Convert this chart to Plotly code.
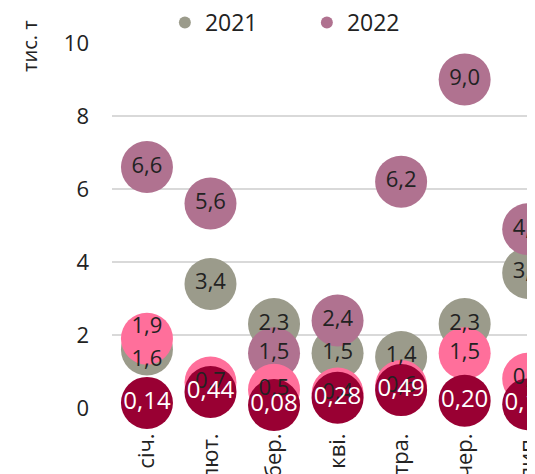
import plotly.graph_objects as go

months = ["січ.", "лют.", "бер.", "кві.", "тра.", "чер.", "лип."]
v2021 = [1.6, 3.4, 2.3, 1.5, 1.4, 2.3, 3.7]
v2022 = [6.6, 5.6, 1.5, 2.4, 6.2, 9.0, 4.9]
pink_vals = [1.9, 0.7, 0.5, 0.4, 0.6, 1.5, 0.8]
dark_vals = [0.14, 0.44, 0.08, 0.28, 0.49, 0.20, 0.10]
y_ticks = [0, 2, 4, 6, 8, 10]

C_GRAY = "#9b9b8b"
C_MAUVE = "#b07290"
C_PINK = "#ff6f9b"
C_DARK = "#990033"
FONT = "Open Sans"


def fmt(v, d):
    return f"{v:.{d}f}".replace(".", ",")


fig = go.Figure()
SIZE = 52
for name, vals, col, show in [
    ("2021", v2021, C_GRAY, True),
    ("2022", v2022, C_MAUVE, True),
    ("p", pink_vals, C_PINK, False),
    ("d", dark_vals, C_DARK, False),
]:
    fig.add_trace(go.Scatter(
        x=months, y=vals, mode="markers", name=name, showlegend=show,
        marker=dict(size=SIZE, color=col, line=dict(width=0), opacity=1),
        cliponaxis=False, hoverinfo="skip",
    ))

# labels (drawn after all bubbles)
pos_gray = ["bottom center"] + ["middle center"] * (len(months) - 1)
pos_pink = ["top center"] + ["middle center"] * (len(months) - 1)
for vals, d, col, size, pos in [
    (v2021, 1, "#222222", 22, pos_gray),
    (v2022, 1, "#222222", 22, "middle center"),
    (pink_vals, 1, "#222222", 22, pos_pink),
    (dark_vals, 2, "#ffffff", 24, "middle center"),
]:
    fig.add_trace(go.Scatter(
        x=months, y=vals, mode="text", showlegend=False,
        text=[fmt(v, d) for v in vals], textposition=pos,
        textfont=dict(family=FONT, size=size, color=col),
        cliponaxis=False, hoverinfo="skip",
    ))

# the page body has an 8px default margin, so the figure starts at (8, 8)
PLOT_W = 423
fig.update_layout(
    width=527, height=466,
    margin=dict(l=104, r=0, t=35, b=66, autoexpand=False),
    paper_bgcolor="white", plot_bgcolor="white",
    font=dict(family=FONT, color="#222222"),
    showlegend=True,
    legend=dict(
        orientation="h", x=0.125, xanchor="left", y=1.115, yanchor="top",
        font=dict(size=23, family=FONT, color="#222222"),
        itemsizing="constant", entrywidth=97, entrywidthmode="pixels",
        itemwidth=30, bgcolor="rgba(0,0,0,0)",
    ),
    xaxis=dict(
        type="category", categoryorder="array", categoryarray=months,
        range=[-0.55, 6.107], showgrid=False, zeroline=False, showline=False,
        ticks="", tickangle=-90, tickfont=dict(size=22, family=FONT, color="#222222"),
        ticklabelstandoff=20, automargin=False, fixedrange=True,
    ),
    yaxis=dict(
        range=[0, 10], tickvals=y_ticks, ticktext=[str(t) for t in y_ticks],
        showgrid=True, gridcolor="#d9d9d9", gridwidth=1.5,
        zeroline=False, showline=False, ticks="",
        tickfont=dict(size=22, family=FONT, color="#222222"),
        ticklabelstandoff=22, automargin=False, fixedrange=True,
    ),
    annotations=[dict(
        text="тис. т", xref="paper", yref="paper",
        x=(30 - 112) / PLOT_W, y=1 - (46 - 43) / 365,
        xanchor="center", yanchor="middle", textangle=-90, showarrow=False,
        font=dict(size=20, family=FONT, color="#222222"),
    )],
)

fig.write_html("out.html")
